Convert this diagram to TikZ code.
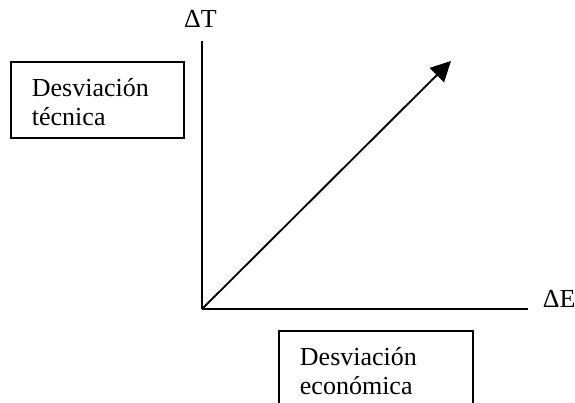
\documentclass[tikz,border=0pt]{standalone}
\usepackage{fontspec}
\setmainfont{Liberation Serif}
\usetikzlibrary{arrows.meta}
\begin{document}
\begin{tikzpicture}[x=0.75pt,y=-0.75pt,line width=1.4pt,
  boxshape/.style={draw, rectangle, inner sep=0pt, anchor=north west},
  lbl/.style={font=\fontsize{19.5}{22}\selectfont, inner sep=0pt, anchor=base west},
  axislbl/.style={font=\fontsize{19.5}{22}\selectfont, inner sep=0pt}]
\useasboundingbox (0,0) rectangle (575,403);
\clip (0,0) rectangle (575,403);
% boxes
\node[boxshape, minimum width=129.75pt, minimum height=57pt] (b1) at (10,61) {};
\node[lbl] (t1a) at (31,97) {Desviación};
\node[lbl] (t1b) at (31,126) {técnica};
\node[boxshape, minimum width=145.5pt, minimum height=67.5pt] (b2) at (278,330) {};
\node[lbl] (t2a) at (299,365) {Desviación};
\node[lbl] (t2b) at (299,394) {económica};
% axes
\coordinate (o) at (202,309);
\coordinate (ytop) at (202,41);
\coordinate (xend) at (528,309);
\coordinate (tip) at (451,61);
\draw (o) -- (ytop);
\draw (o) -- (xend);
\draw[-{Triangle[length=15pt,width=15pt]}] (o) -- (tip);
\node[axislbl, anchor=base] (dt) at (200.5,28) {ΔT};
\node[axislbl, anchor=base west] (de) at (542,307) {ΔE};
\end{tikzpicture}
\end{document}
